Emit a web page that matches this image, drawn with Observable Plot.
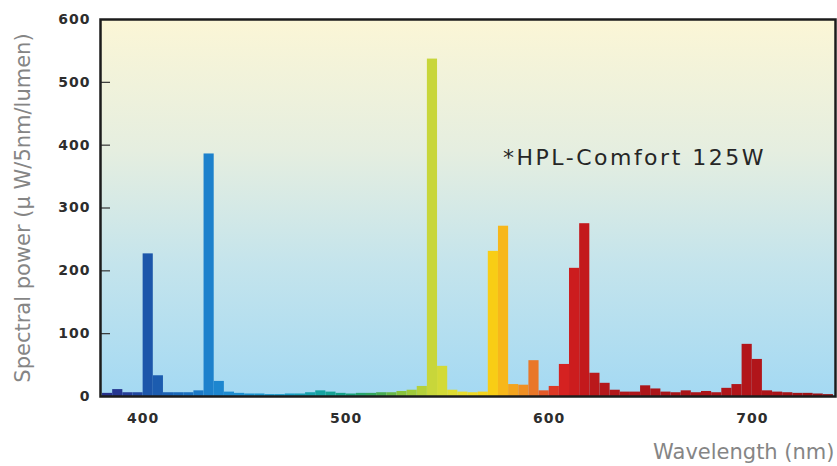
<!DOCTYPE html>
<html>
<head>
<meta charset="utf-8">
<script src="https://cdn.jsdelivr.net/npm/d3@7"></script>
<script src="https://cdn.jsdelivr.net/npm/@observablehq/plot@0.6"></script>
<style>
  body { margin: 0; background: #fff; }
  #chart svg { display: block; }
  g[aria-label="y-axis tick label"] text,
  g[aria-label="x-axis tick label"] text {
    font-family: "DejaVu Sans"; font-weight: bold; font-size: 14px; fill: #2d2d2d; letter-spacing: 1px;
  }
  g[aria-label="y-axis label"] text,
  g[aria-label="x-axis label"] text {
    font-family: "DejaVu Sans"; font-size: 21px; fill: #858585;
  }
  g[aria-label="text"] text { font-family: "DejaVu Sans"; letter-spacing: 2.5px; }
</style>
</head>
<body>
<div id="chart"></div>
<script>
// Bin start wavelengths (nm), 5 nm bins
const wavelengths = [380,385,390,395,400,405,410,415,420,425,430,435,440,445,450,455,460,465,470,475,
  480,485,490,495,500,505,510,515,520,525,530,535,540,545,550,555,560,565,570,575,
  580,585,590,595,600,605,610,615,620,625,630,635,640,645,650,655,660,665,670,675,
  680,685,690,695,700,705,710,715,720,725,730,735];
// Spectral power (µW/5nm/lumen)
const power = [5,11,6,6,227,33,6,6,6,9,386,24,7,5,4,4,3,3,4,4,
  6,9,7,5,4,5,5,6,6,8,10,16,537,48,10,7,6,7,231,271,
  19,18,57,9,16,51,204,275,37,21,10,7,7,17,12,7,6,9,6,8,
  6,13,19,83,59,9,7,6,5,5,4,3];
const binWidth = 5;
const xTicks = [400, 500, 600, 700];
const yTicks = [0, 100, 200, 300, 400, 500, 600];
const xDomain = [379, 741];
const yDomain = [0, 600];
const xLabel = "Wavelength (nm)";
const yLabel = "Spectral power (μ W/5nm/lumen)";
const annotationText = ["*HPL-Comfort 125W"];
const annotationX = [642];
const annotationY = [380];

const bins = wavelengths.map((w, i) => ({x1: w, x2: w + binWidth, mid: w + binWidth / 2, y: power[i]}));
const annotations = annotationText.map((t, i) => ({text: t, x: annotationX[i], y: annotationY[i]}));

const colorStops = [382,395,402,420,432,445,470,485,500,515,528,542,550,560,572,578,585,592,600,605,615,625,660,700,740];
const colorRange = ["#27308a","#24409a","#1c55aa","#1b6cbb","#1d80cc","#1e8fd2","#1a9cc8","#16a3a8","#17a284","#3aa85a","#8cc43c","#c7d63a","#d9dc35","#eddc2a","#f8cf14","#f7b51a","#f19a20","#ea7a28","#e04a26","#d92523","#c8191c","#b5171b","#a81518","#b3151a","#951316"];

const defs = () => {
  const d = d3.create("svg:defs");
  const g = d.append("linearGradient").attr("id", "bg").attr("x1", 0).attr("y1", 0).attr("x2", 0).attr("y2", 1);
  [[0, "#fbf6d6"], [0.35, "#e5eee0"], [0.65, "#c4e4ec"], [1, "#a4d9f3"]]
    .forEach(([o, c]) => g.append("stop").attr("offset", o).attr("stop-color", c));
  return d.node();
};

const chart = Plot.plot({
  width: 837,
  height: 466,
  marginLeft: 100,
  marginRight: 2,
  marginTop: 19,
  marginBottom: 70,
  style: {fontFamily: "DejaVu Sans", background: "#fff"},
  x: {domain: xDomain},
  y: {domain: yDomain},
  color: {type: "linear", domain: colorStops, range: colorRange},
  marks: [
    defs,
    Plot.frame({fill: "url(#bg)", stroke: null}),
    Plot.rectY(bins, {x1: "x1", x2: "x2", y: "y", fill: "mid"}),
    Plot.ruleY(yTicks.slice(1, -1), {stroke: "#333", strokeWidth: 1.2, insetRight: 725}),
    Plot.axisX({ticks: xTicks, tickSize: 0, tickPadding: 17, label: xLabel, labelAnchor: "right", labelOffset: 62, labelArrow: "none"}),
    Plot.axisY({ticks: yTicks, tickSize: 0, tickPadding: 10, label: yLabel, labelAnchor: "center", labelOffset: 85, labelArrow: "none"}),
    Plot.text(annotations, {x: "x", y: "y", text: "text", fontSize: 22, fill: "#262626"}),
    Plot.frame({stroke: "#1c1c1c", strokeWidth: 2.5})
  ]
});
document.getElementById("chart").appendChild(chart);
</script>
</body>
</html>
